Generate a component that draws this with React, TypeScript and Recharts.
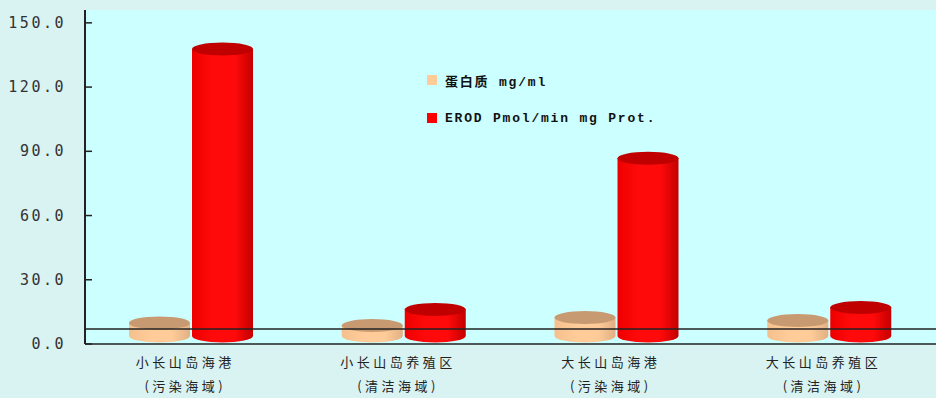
import React from "react";
import { Bar, BarChart, CartesianGrid, ReferenceLine, XAxis, YAxis } from "recharts";

const SITES = ["小长山岛海港", "小长山岛养殖区", "大长山岛海港", "大长山岛养殖区"];
const ZONES = ["(污染海域)", "(清洁海域)", "(污染海域)", "(清洁海域)"];
const PROTEIN = [6.1, 4.9, 8.6, 7.2];
const EROD = [134, 12.4, 83, 13.3];
const Y_TICKS = [0, 30, 60, 90, 120, 150];
const Y_MAX = 156; // plot box runs a little above the last tick

const PROTEIN_NAME = "蛋白质 mg/ml";
const EROD_NAME = "EROD Pmol/min mg Prot.";

const data = SITES.map((site, i) => ({
  site,
  zone: ZONES[i],
  protein: PROTEIN[i],
  erod: EROD[i],
}));

// 3d look: floor line sits a bit behind the front axis, cylinders stand in the middle of it
const FLOOR_VALUE = 7;
const DEPTH = 8;
const RY = 6.5;

const PALETTE: Record<string, { left: string; mid: string; right: string; top: string }> = {
  protein: { left: "#f3c08e", mid: "#ffcc99", right: "#e2b083", top: "#c89a72" },
  erod: { left: "#ee0000", mid: "#ff0a0a", right: "#c40000", top: "#c00000" },
};

function Cylinder(props: any) {
  const { x, y, width, height, dataKey } = props;
  if (width == null || height == null) return null;
  const c = PALETTE[dataKey] || PALETTE.erod;
  const gid = `cyl-${dataKey}`;
  const top = y - DEPTH;
  const bottom = y + height - DEPTH;
  const rx = width / 2;
  const cx = x + rx;
  return (
    <g>
      <defs>
        <linearGradient id={gid} x1="0" y1="0" x2="1" y2="0">
          <stop offset="0%" stopColor={c.left} />
          <stop offset="35%" stopColor={c.mid} />
          <stop offset="70%" stopColor={c.mid} />
          <stop offset="100%" stopColor={c.right} />
        </linearGradient>
      </defs>
      <path
        d={`M${x},${top} L${x},${bottom} A${rx},${RY} 0 0 0 ${x + width},${bottom} L${x + width},${top} Z`}
        fill={`url(#${gid})`}
      />
      <ellipse cx={cx} cy={top} rx={rx} ry={RY} fill={c.top} />
    </g>
  );
}

function YTick(props: any) {
  const { x, y, payload } = props;
  return (
    <g>
      <line x1={x} x2={x + 7} y1={y} y2={y} stroke="#222" strokeWidth={1.5} />
      <text
        x={x - 19}
        y={y + 5}
        textAnchor="end"
        fontFamily="DejaVu Sans Mono"
        fontSize={15}
        letterSpacing={2.5}
        fill="#333"
      >
        {payload.value.toFixed(1)}
      </text>
    </g>
  );
}

function XTick(props: any) {
  const { x, y, index } = props;
  return (
    <g fontFamily="Noto Sans CJK SC" fontSize={13} fill="#222" letterSpacing={3.5}>
      <text x={x - 6} y={y + 21} textAnchor="middle">
        {SITES[index]}
      </text>
      <text x={x - 6} y={y + 45} textAnchor="middle">
        {ZONES[index]}
      </text>
    </g>
  );
}

function LegendBox() {
  const items = [
    { name: PROTEIN_NAME, color: PALETTE.protein.mid },
    { name: EROD_NAME, color: "#ff0000" },
  ];
  return (
    <div style={{ position: "absolute", left: 427, top: 74, display: "flex", flexDirection: "column", gap: 26 }}>
      {items.map((it) => (
        <div key={it.name} style={{ display: "flex", alignItems: "center", height: 12 }}>
          <span style={{ width: 10, height: 10, background: it.color, display: "inline-block", marginRight: 8 }} />
          <span
            style={{
              fontFamily: "'Liberation Mono', 'Noto Sans CJK SC'",
              fontWeight: "bold",
              fontSize: 13,
              letterSpacing: 1.8,
              color: "#111",
              whiteSpace: "nowrap",
            }}
          >
            {it.name}
          </span>
        </div>
      ))}
    </div>
  );
}

export default function App() {
  return (
    <div style={{ position: "fixed", left: 0, top: 0, width: 936, height: 398, background: "#d9f2f2" }}>
      <BarChart
        width={936}
        height={398}
        data={data}
        margin={{ top: 10, right: 0, bottom: 0, left: 0 }}
        barSize={61}
        barGap={2}
      >
        <CartesianGrid fill="#ccffff" stroke="none" horizontal={false} vertical={false} />
        <XAxis
          dataKey="site"
          height={54}
          tickLine={false}
          tickSize={0}
          axisLine={{ stroke: "#222", strokeWidth: 1.5 }}
          tick={<XTick />}
          interval={0}
        />
        <XAxis
          xAxisId="top"
          orientation="top"
          dataKey="site"
          height={0}
          tick={false}
          tickLine={false}
          axisLine={{ stroke: "#222", strokeWidth: 1.5 }}
        />
        <YAxis
          width={85}
          domain={[0, Y_MAX]}
          ticks={Y_TICKS}
          tickLine={false}
          tickSize={0}
          tickMargin={0}
          axisLine={{ stroke: "#222", strokeWidth: 2 }}
          tick={<YTick />}
        />
        <ReferenceLine y={FLOOR_VALUE} stroke="#222" strokeWidth={1.5} />
        <Bar dataKey="protein" name={PROTEIN_NAME} fill="#ffcc99" shape={<Cylinder />} isAnimationActive={false} />
        <Bar dataKey="erod" name={EROD_NAME} fill="#ff0000" shape={<Cylinder />} isAnimationActive={false} />
      </BarChart>
      <LegendBox />
    </div>
  );
}
